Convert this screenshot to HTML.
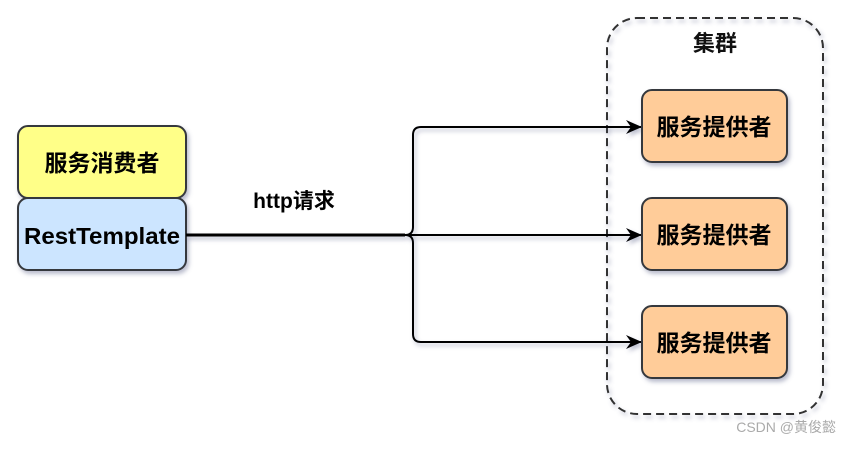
<!DOCTYPE html>
<html><head><meta charset="utf-8"><style>
html,body{margin:0;padding:0;background:#fff;}
body{width:851px;height:444px;overflow:hidden;}
text{font-family:"Liberation Sans","Noto Sans CJK SC",sans-serif;font-weight:bold;}
</style></head><body>
<svg width="851" height="444" viewBox="0 0 851 444" xmlns="http://www.w3.org/2000/svg">
<defs>
<filter id="sh" x="-20%" y="-20%" width="140%" height="150%"><feDropShadow dx="2" dy="3" stdDeviation="2" flood-color="#666a90" flood-opacity="0.45"/></filter>
<marker id="ar" markerWidth="16" markerHeight="14" refX="15" refY="7" orient="auto" markerUnits="userSpaceOnUse"><path d="M0,0 L16,7 L0,14 L5,7 Z" fill="#000"/></marker>
</defs>
<rect x="607" y="18" width="216" height="396" rx="30" fill="none" stroke="#333" stroke-width="2" stroke-dasharray="8 5" filter="url(#sh)"/>
<text x="715" y="51" font-size="22" text-anchor="middle" fill="#111">集群</text>
<rect x="18" y="126" width="168" height="72" rx="10" fill="#ffff88" stroke="#36393d" stroke-width="2" filter="url(#sh)"/>
<rect x="18" y="198" width="168" height="72" rx="10" fill="#cce5ff" stroke="#36393d" stroke-width="2" filter="url(#sh)"/>
<text x="102" y="171" font-size="23" text-anchor="middle">服务消费者</text>
<text x="102" y="244" font-size="23" text-anchor="middle" textLength="156" lengthAdjust="spacingAndGlyphs">RestTemplate</text>
<text x="294" y="208" font-size="21" text-anchor="middle">http请求</text>
<g fill="none" stroke="#000" stroke-width="2" filter="url(#sh)">
<path d="M186,235 L405,235" stroke-width="3"/>
<path d="M405,235 Q413,235 413,227 L413,135 Q413,127 421,127 L641,127" marker-end="url(#ar)"/>
<path d="M405,235 L641,235" marker-end="url(#ar)"/>
<path d="M405,235 Q413,235 413,243 L413,334 Q413,342 421,342 L641,342" marker-end="url(#ar)"/>
</g>
<g filter="url(#sh)">
<rect x="642" y="90" width="145" height="72" rx="10" fill="#ffcc99" stroke="#36393d" stroke-width="2"/>
<rect x="642" y="198" width="145" height="72" rx="10" fill="#ffcc99" stroke="#36393d" stroke-width="2"/>
<rect x="642" y="306" width="145" height="72" rx="10" fill="#ffcc99" stroke="#36393d" stroke-width="2"/>
</g>
<text x="714" y="135" font-size="23" text-anchor="middle">服务提供者</text>
<text x="714" y="243" font-size="23" text-anchor="middle">服务提供者</text>
<text x="714" y="351" font-size="23" text-anchor="middle">服务提供者</text>
<text x="836" y="432" font-size="14" style="font-weight:normal" text-anchor="end" fill="#aaa">CSDN @黄俊懿</text>
</svg>
</body></html>
